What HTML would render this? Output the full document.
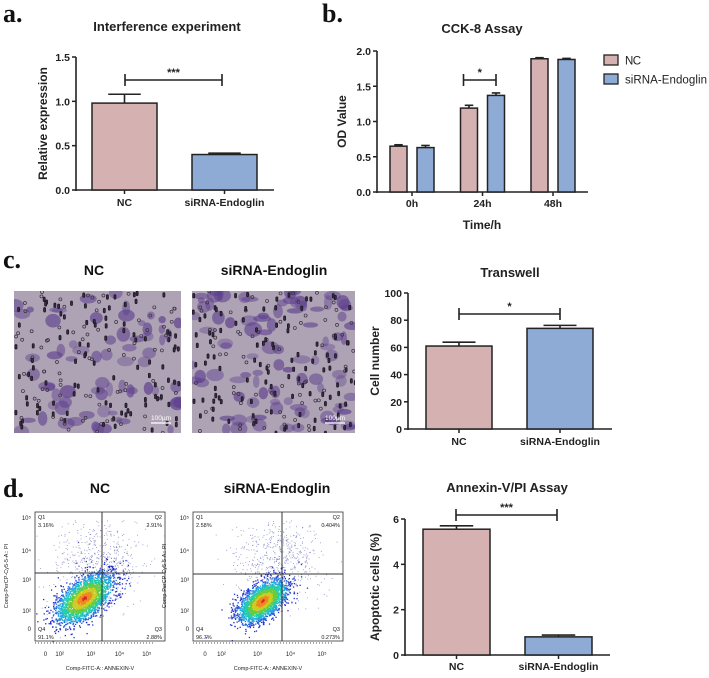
<!DOCTYPE html>
<html><head><meta charset="utf-8"><style>
html,body{margin:0;padding:0;background:#fff;}
svg{display:block;font-family:"Liberation Sans",Arial,sans-serif;}
</style></head><body>
<svg id="fig" width="709" height="678" viewBox="0 0 709 678" xmlns="http://www.w3.org/2000/svg">
<g font-family="Liberation Serif,serif" font-weight="bold" font-size="26" fill="#111">
<text x="3" y="22">a.</text>
<text x="322" y="22">b.</text>
<text x="3" y="268">c.</text>
<text x="3" y="497">d.</text>
</g>
<g id="micro"></g>
<g id="flow"></g>
<g id="charts"></g>
</svg>
<script>
// ---- chart data ----
const aCats = ["NC", "siRNA-Endoglin"];
const aVals = [0.98, 0.40];
const aErr = [0.10, 0.015];
const aTicks = [0, 0.5, 1.0, 1.5];
const aTickLabels = ["0.0", "0.5", "1.0", "1.5"];

const bCats = ["0h", "24h", "48h"];
const bNC = [0.65, 1.19, 1.89];
const bNCerr = [0.02, 0.04, 0.015];
const bSi = [0.63, 1.37, 1.88];
const bSiErr = [0.03, 0.035, 0.015];
const bTicks = [0, 0.5, 1.0, 1.5, 2.0];
const bTickLabels = ["0.0", "0.5", "1.0", "1.5", "2.0"];

const cCats = ["NC", "siRNA-Endoglin"];
const cVals = [61, 74];
const cErr = [2.8, 2.2];
const cTicks = [0, 20, 40, 60, 80, 100];

const dCats = ["NC", "siRNA-Endoglin"];
const dVals = [5.55, 0.80];
const dErr = [0.15, 0.08];
const dTicks = [0, 2, 4, 6];

const PINK = "#d6b1b1", BLUE = "#8dabd5", INK = "#222";
const NS = "http://www.w3.org/2000/svg";
const charts = document.getElementById('charts');
function mk(tag, attrs, parent, text) {
  const e = document.createElementNS(NS, tag);
  for (const k in attrs) e.setAttribute(k, attrs[k]);
  if (text !== undefined) e.textContent = text;
  (parent || charts).appendChild(e);
  return e;
}
function scaleY(y0, y1, v0, v1) { return v => y0 + (v - v0) / (v1 - v0) * (y1 - y0); }

function axes(g, ax, yTop, yBot, xEnd, ticks, labels, sy, ytitle, titleX, fs) {
  const l1 = mk('line', {x1: ax, y1: yTop, x2: ax, y2: yBot + 1, stroke: INK, 'stroke-width': 1.6}, g);
  
  
  const l2 = mk('line', {x1: ax, y1: yBot, x2: xEnd, y2: yBot, stroke: INK, 'stroke-width': 1.6}, g);
  
  
  ticks.forEach((t, i) => {
    const y = sy(t);
    mk('line', {x1: ax - 4, y1: y, x2: ax, y2: y, stroke: INK, 'stroke-width': 1.5}, g);
    const tl = mk('text', {x: ax - 6, y: y + 4, 'text-anchor': 'end', 'font-size': fs || 10.5, 'font-weight': 'bold', fill: '#222'}, g, labels[i]);
    
    
  });
  const yt = mk('text', {x: titleX, y: (yTop + yBot) / 2, transform: `rotate(-90 ${titleX} ${(yTop + yBot) / 2})`, 'text-anchor': 'middle', 'font-size': 12, 'font-weight': 'bold', fill: '#222'}, g, ytitle);
  
  
}
function bar(g, x0, w, v, err, sy, fill, name) {
  const yb = sy(0), yv = sy(v), ye = sy(v + err), cx = x0 + w / 2;
  const eb = mk('line', {x1: cx, y1: yv, x2: cx, y2: ye, stroke: INK, 'stroke-width': 1.6}, g);
  
  
  mk('line', {x1: cx - w * 0.25, y1: ye, x2: cx + w * 0.25, y2: ye, stroke: INK, 'stroke-width': 1.6}, g);
  const r = mk('rect', {x: x0, y: yv, width: w, height: yb - yv, fill: fill, stroke: INK, 'stroke-width': 1.5}, g);
  
  
}
function bracket(g, x1, x2, y, stars) {
  mk('line', {x1: x1, y1: y, x2: x2, y2: y, stroke: INK, 'stroke-width': 1.6}, g);
  mk('line', {x1: x1, y1: y - 6, x2: x1, y2: y + 6, stroke: INK, 'stroke-width': 1.6}, g);
  mk('line', {x1: x2, y1: y - 6, x2: x2, y2: y + 6, stroke: INK, 'stroke-width': 1.6}, g);
  const t = mk('text', {x: (x1 + x2) / 2, y: y - 4, 'text-anchor': 'middle', 'font-size': 11, 'font-weight': 'bold', fill: '#222'}, g, stars);
  
  
}
function title(g, x, y, s, name) {
  const t = mk('text', {x: x, y: y, 'text-anchor': 'middle', 'font-size': 13, 'font-weight': 'bold', fill: '#222'}, g, s);
  
  
}
function xlabel(g, x, y, s) {
  const t = mk('text', {x: x, y: y, 'text-anchor': 'middle', 'font-size': 10.5, 'font-weight': 'bold', fill: '#222'}, g, s);
  
  
}

// Panel a
(function () {
  const g = mk('g', {});
  
  
  const sy = scaleY(190, 57, 0, 1.5);
  title(g, 167, 31, 'Interference experiment', 'chart-title');
  axes(g, 76, 57, 190, 274, aTicks, aTickLabels, sy, 'Relative expression', 47);
  const xs = [92, 192], w = 65;
  aCats.forEach((c, i) => {
    bar(g, xs[i], w, aVals[i], aErr[i], sy, i ? BLUE : PINK, 'bar-' + c.toLowerCase());
    mk('line', {x1: xs[i] + w / 2, y1: 190, x2: xs[i] + w / 2, y2: 194, stroke: INK, 'stroke-width': 1.5}, g);
    xlabel(g, xs[i] + w / 2, 206, c);
  });
  bracket(g, 125, 222, 80, '***');
})();

// Panel b
(function () {
  const g = mk('g', {});
  
  
  const sy = scaleY(192, 51, 0, 2.0);
  title(g, 482, 33, 'CCK-8 Assay', 'chart-title');
  axes(g, 377, 51, 192, 588, bTicks, bTickLabels, sy, 'OD Value', 346);
  const w = 17;
  bCats.forEach((c, i) => {
    const gx = 412 + i * 70.5;
    bar(g, gx - 22, w, bNC[i], bNCerr[i], sy, PINK, 'bar-nc-' + c);
    bar(g, gx + 5, w, bSi[i], bSiErr[i], sy, BLUE, 'bar-sirna-' + c);
    mk('line', {x1: gx, y1: 192, x2: gx, y2: 196, stroke: INK, 'stroke-width': 1.5}, g);
    xlabel(g, gx, 207, c);
  });
  bracket(g, 463.5, 496, 80, '*');
  const xt = mk('text', {x: 482, y: 229, 'text-anchor': 'middle', 'font-size': 12, 'font-weight': 'bold', fill: '#222'}, g, 'Time/h');
  
  
  [['NC', PINK, 60], ['siRNA-Endoglin', BLUE, 79]].forEach(([n, col, y]) => {
    const sw = mk('rect', {x: 604, y: y - 5, width: 14, height: 10, fill: col, stroke: INK, 'stroke-width': 1.3}, g);
    
    
    const lt = mk('text', {x: 625, y: y + 4.5, 'font-size': 11.5, 'textLength': n.length > 2 ? 82 : 16, fill: '#222'}, g, n);
    
    
  });
})();

// Panel c chart
(function () {
  const g = mk('g', {});
  
  
  const sy = scaleY(429, 293, 0, 100);
  title(g, 510, 277, 'Transwell', 'chart-title');
  axes(g, 408, 293, 429, 612, cTicks, cTicks.map(String), sy, 'Cell number', 379);
  const xs = [426, 527], w = 66;
  cCats.forEach((c, i) => {
    bar(g, xs[i], w, cVals[i], cErr[i], sy, i ? BLUE : PINK, 'bar-' + c.toLowerCase());
    mk('line', {x1: xs[i] + w / 2, y1: 429, x2: xs[i] + w / 2, y2: 433, stroke: INK, 'stroke-width': 1.5}, g);
    xlabel(g, xs[i] + w / 2, 445, c);
  });
  bracket(g, 459, 560, 314, '*');
})();

// Panel d chart
(function () {
  const g = mk('g', {});
  
  
  const sy = scaleY(655, 519, 0, 6);
  title(g, 507, 492, 'Annexin-V/PI Assay', 'chart-title');
  axes(g, 405, 519, 655, 610, dTicks, dTicks.map(String), sy, 'Apoptotic cells (%)', 379);
  const xs = [423, 525], w = 67;
  dCats.forEach((c, i) => {
    bar(g, xs[i], w, dVals[i], dErr[i], sy, i ? BLUE : PINK, 'bar-' + c.toLowerCase());
    mk('line', {x1: xs[i] + w / 2, y1: 655, x2: xs[i] + w / 2, y2: 659, stroke: INK, 'stroke-width': 1.5}, g);
    xlabel(g, xs[i] + w / 2, 670, c);
  });
  bracket(g, 456, 557, 515, '***');
})();

// ---- decorative images ----
let seed = 12345;
function rnd() { seed = (seed * 1103515245 + 12345) % 2147483648; return seed / 2147483648; }
function gauss() { let u = rnd() || 1e-6, v = rnd(); return Math.sqrt(-2 * Math.log(u)) * Math.cos(2 * Math.PI * v); }

const micro = document.getElementById('micro');
[['NC', 14, 181, 94], ['siRNA-Endoglin', 192, 355, 274]].forEach(([n, x0, x1, tx]) => {
  const g = mk('g', {}, micro);
  
  
  const t = mk('text', {x: tx, y: 275, 'text-anchor': 'middle', 'font-size': 14, 'font-weight': 'bold', fill: '#111'}, g, n);
  
  
  const y0 = 291, y1 = 433;
  mk('rect', {x: x0, y: y0, width: x1 - x0, height: y1 - y0, fill: '#aea3b4'}, g);
  const cp = 'clip' + x0;
  const cl = mk('clipPath', {id: cp}, g);
  mk('rect', {x: x0, y: y0, width: x1 - x0, height: y1 - y0}, cl);
  const inner = mk('g', {'clip-path': `url(#${cp})`}, g);
  const nCells = n === 'NC' ? 70 : 95;
  for (let i = 0; i < nCells; i++) {
    mk('ellipse', {cx: x0 + rnd() * (x1 - x0), cy: y0 + rnd() * (y1 - y0), rx: 3 + rnd() * 6, ry: 2.5 + rnd() * 5, fill: '#5e3f8e', opacity: 0.35 + rnd() * 0.35}, inner);
  }
  for (let i = 0; i < 190; i++) {
    const cx = x0 + rnd() * (x1 - x0), cy = y0 + rnd() * (y1 - y0);
    if (rnd() < 0.55) mk('rect', {x: cx, y: cy, width: 2, height: 4.5, rx: 1, fill: '#3a2e44', stroke: '#1e1824', 'stroke-width': 0.8}, inner);
    else mk('circle', {cx: cx, cy: cy, r: 1.5, fill: 'none', stroke: '#3a3040', 'stroke-width': 0.7}, inner);
  }
  mk('line', {x1: x1 - 30, y1: y1 - 10, x2: x1 - 10, y2: y1 - 10, stroke: '#fff', 'stroke-width': 1.2}, g);
  const sb = mk('text', {x: x1 - 20, y: y1 - 13, 'text-anchor': 'middle', 'font-size': 6.5, fill: '#fff'}, g, '100μm');
  
  
});

const flow = document.getElementById('flow');
[['NC', 35, 165, 102, 573, ['3.16%', '2.91%', '2.88%', '91.1%'], 84, 598, 100, 1.0],
 ['siRNA-Endoglin', 193, 343, 282, 574, ['2.58%', '0.404%', '0.273%', '96.7%'], 262, 601, 277, 0.85]].forEach(([n, x0, x1, gx, gy, q, cx, cy, tx, sc]) => {
  const g = mk('g', {}, flow);
  
  
  const y0 = 512, y1 = 641;
  const t = mk('text', {x: tx, y: 493, 'text-anchor': 'middle', 'font-size': 14, 'font-weight': 'bold', fill: '#111'}, g, n);
  
  
  for (let i = 0; i < 600; i++) {
    const px = gx + gauss() * 24 * sc - 5, py = 560 + gauss() * 22;
    if (px > x0 && px < x1 && py > y0 + 8 && py < y1) mk('rect', {x: px, y: py, width: 0.9, height: 0.9, fill: '#4a4aa8', opacity: 0.6}, g);
  }
  const cols = ['#2233cc', '#2266dd', '#22aadd', '#22ccaa', '#66cc44', '#cccc22', '#ee8822', '#dd2222'];
  for (let k = 0; k < 2600; k++) {
    const a = gauss(), b = gauss();
    const r = Math.sqrt(a * a + b * b);
    const px = cx + (a * 13 - b * 5) * sc, py = cy + (-a * 10 - b * 7) * sc;
    const ci = Math.max(0, Math.min(7, Math.round(7 - r * 2.8)));
    mk('rect', {x: px, y: py, width: 1.3, height: 1.3, fill: cols[ci]}, g);
  }
  mk('rect', {x: x0, y: y0, width: x1 - x0, height: y1 - y0, fill: 'none', stroke: '#333', 'stroke-width': 0.8}, g);
  mk('line', {x1: gx, y1: y0, x2: gx, y2: y1, stroke: '#333', 'stroke-width': 1}, g);
  mk('line', {x1: x0, y1: gy, x2: x1, y2: gy, stroke: '#333', 'stroke-width': 1}, g);
  const fs = 5.5;
  [['Q1', x0 + 3, y0 + 7, 'start'], [q[0], x0 + 3, y0 + 15, 'start'], ['Q2', x1 - 3, y0 + 7, 'end'], [q[1], x1 - 3, y0 + 15, 'end'],
   ['Q4', x0 + 3, y1 - 10, 'start'], [q[3], x0 + 3, y1 - 2, 'start'], ['Q3', x1 - 3, y1 - 10, 'end'], [q[2], x1 - 3, y1 - 2, 'end']].forEach(([s, x, y, an]) => {
    const e = mk('text', {x: x, y: y, 'text-anchor': an, 'font-size': fs, fill: '#222'}, g, s);
    
    
  });
  [['10⁵', 520], ['10⁴', 553], ['10³', 582], ['10²', 613], ['0', 631]].forEach(([s, y]) => {
    mk('text', {x: x0 - 4, y: y, 'text-anchor': 'end', 'font-size': 6, fill: '#222'}, g, s);
  });
  const w = x1 - x0;
  [['0', 0.08], ['10²', 0.19], ['10³', 0.43], ['10⁴', 0.65], ['10⁵', 0.86]].forEach(([s, f]) => {
    mk('text', {x: x0 + f * w, y: 656, 'text-anchor': 'middle', 'font-size': 6, fill: '#222'}, g, s);
  });
  mk('line', {x1: x0, y1: y1 + 2, x2: x1 - 10, y2: y1 + 2, stroke: '#555', 'stroke-width': 1, 'stroke-dasharray': '1 2'}, g);
  const xa = mk('text', {x: (x0 + x1) / 2, y: 670, 'text-anchor': 'middle', 'font-size': 5.5, fill: '#222'}, g, 'Comp-FITC-A:: ANNEXIN-V');
  
  
  const yx = x0 - 27;
  const ya = mk('text', {x: yx, y: 576, transform: `rotate(-90 ${yx} 576)`, 'text-anchor': 'middle', 'font-size': 5.5, fill: '#222'}, g, 'Comp-PerCP-Cy5-5-A:: PI');
  
  
});
</script>
</body></html>
